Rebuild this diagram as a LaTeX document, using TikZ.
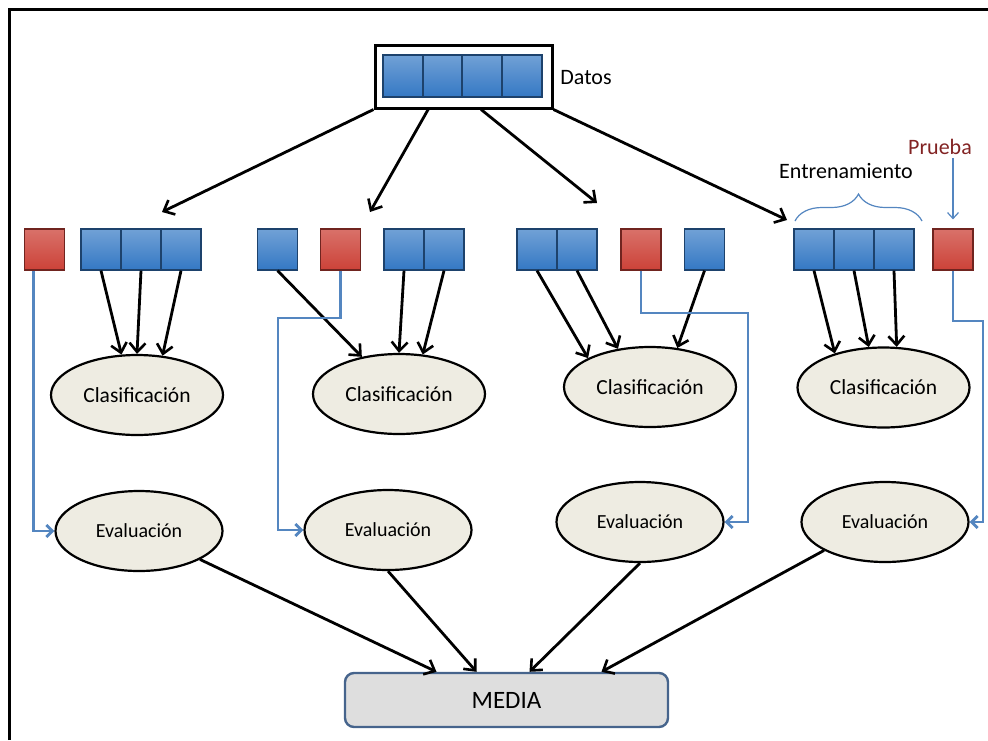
\documentclass[tikz,border=0pt]{standalone}
\usepackage{fontspec}
\setmainfont{Carlito}
\usetikzlibrary{shapes.geometric,arrows.meta,decorations.pathreplacing}
\definecolor{cellblue}{RGB}{52,120,196}
\definecolor{cellred}{RGB}{204,66,56}
\definecolor{ovalfill}{RGB}{238,236,226}
\definecolor{testblue}{RGB}{84,134,192}
\definecolor{mediafill}{RGB}{222,222,222}
\definecolor{mediaedge}{RGB}{70,100,140}
\definecolor{pruebared}{RGB}{130,35,35}
\begin{document}
\begin{tikzpicture}[x=1pt,y=-1pt,
  bcell/.style={rectangle,draw=cellblue!55!black,line width=1.2pt,top color=cellblue!70!white,bottom color=cellblue,minimum width=40pt,minimum height=41pt,inner sep=0pt},
  rcell/.style={bcell,draw=cellred!55!black,top color=cellred!75!white,bottom color=cellred},
  oval/.style={ellipse,draw,line width=2.2pt,fill=ovalfill,minimum width=172pt,minimum height=80pt,inner sep=0pt,font=\fontsize{21.5}{25}\selectfont},
  evaloval/.style={oval,minimum width=167pt,font=\fontsize{20}{24}\selectfont},
  arr/.style={-{Straight Barb[length=9pt,width=16pt,line width=2.6pt]},line width=2.8pt},
  test/.style={-{Straight Barb[length=6pt,width=12pt]},testblue,line width=2.8pt},
  lbl/.style={font=\fontsize{22}{26}\selectfont}]
  \useasboundingbox (0,0) rectangle (988,740);
  \draw[line width=3pt] (9,740) -- (9,9) -- (988,9);

  \node (datos) at (463.5,76.5) [draw,line width=3pt,minimum width=177pt,minimum height=63pt] {};
  \node (d1) at (403,76) [bcell,minimum height=42pt] {}; \node (d2) at (443,76) [bcell,minimum height=42pt] {};
  \node (d3) at (482,76) [bcell,minimum height=42pt] {}; \node (d4) at (522,76) [bcell,minimum height=42pt] {};
  \node (datoslbl) at (586,78) [lbl] {Datos};

  \node (r1) at (44.5,249.5) [rcell] {}; \node (b11) at (101,249.5) [bcell] {};
  \node (b12) at (141,249.5) [bcell] {}; \node (b13) at (181,249.5) [bcell] {};
  \node (b21) at (277.5,249.5) [bcell] {}; \node (r2) at (340.5,249.5) [rcell] {};
  \node (b22) at (404,249.5) [bcell] {}; \node (b23) at (444,249.5) [bcell] {};
  \node (b31) at (537,249.5) [bcell] {}; \node (b32) at (577,249.5) [bcell] {};
  \node (r3) at (641,249.5) [rcell] {}; \node (b33) at (704.5,249.5) [bcell] {};
  \node (b41) at (814,249.5) [bcell] {}; \node (b42) at (854,249.5) [bcell] {};
  \node (b43) at (894,249.5) [bcell] {}; \node (r4) at (953,249.5) [rcell] {};

  \node (entr) at (846,171) [lbl] {Entrenamiento};
  \node (prueba) at (940,147) [lbl,text=pruebared] {Prueba};
  \draw[testblue,line width=1.2pt,decorate,decoration={brace,amplitude=27pt}] (795,221) -- (922,221);
  \draw[-{Straight Barb[length=6pt,width=11pt]},testblue,line width=1.2pt] (prueba.south -| r4) -- ([yshift=9pt]r4.north);

  \node (c1) at (137,395) [oval] {Clasificación}; \node (c2) at (399,394) [oval] {Clasificación};
  \node (c3) at (650,387) [oval] {Clasificación}; \node (c4) at (883.5,387.5) [oval] {Clasificación};
  \node (e1) at (139,531) [evaloval] {Evaluación}; \node (e2) at (388,530) [evaloval] {Evaluación};
  \node (e3) at (640,522) [evaloval] {Evaluación}; \node (e4) at (885,522) [evaloval] {Evaluación};
  \node (media) at (506.5,700) [draw=mediaedge,line width=2.4pt,fill=mediafill,rounded corners=9pt,minimum width=323pt,minimum height=54pt,font=\fontsize{25}{29}\selectfont] {MEDIA};

  \coordinate (t1) at (162,212); \coordinate (t2) at (370,212);
  \coordinate (t3) at (597,203); \coordinate (t4) at (787,220);
  \draw[arr] (datos.south west) -- (t1); \draw[arr] (datos.223) -- (t2);
  \draw[arr] (datos.298) -- (t3); \draw[arr] (datos.south east) -- (t4);

  \draw[arr] (b11.south) -- (c1.111); \draw[arr] (b12.south) -- (c1.north); \draw[arr] (b13.south) -- (c1.57);
  \draw[arr] (b21.south) -- (c2.135); \draw[arr] (b22.south) -- (c2.north); \draw[arr] (b23.south) -- (c2.59);
  \draw[arr] (b31.south) -- (c3.155); \draw[arr] (b32.south) -- (c3.130); \draw[arr] (b33.south) -- (c3.55);
  \draw[arr] (b41.south) -- (c4.145); \draw[arr] (b42.south) -- (c4.110); \draw[arr] (b43.south) -- (c4.72);

  \coordinate (k2) at (278,318); \coordinate (k3) at (748,313); \coordinate (k4) at (983,321);
  \draw[test] ([xshift=-11pt]r1.south) |- (e1.west);
  \draw[test] (r2.south) |- (k2) |- (e2.west);
  \draw[test] (r3.south) |- (k3) |- (e3.east);
  \draw[test] (r4.south) |- (k4) |- (e4.east);

  \draw[arr] (e1.335) -- ([xshift=-70pt]media.north); \draw[arr] (e2.south) -- ([xshift=-30pt]media.north);
  \draw[arr] (e3.south) -- ([xshift=23pt]media.north); \draw[arr] (e4.205) -- ([xshift=95pt]media.north);
\end{tikzpicture}
\end{document}
